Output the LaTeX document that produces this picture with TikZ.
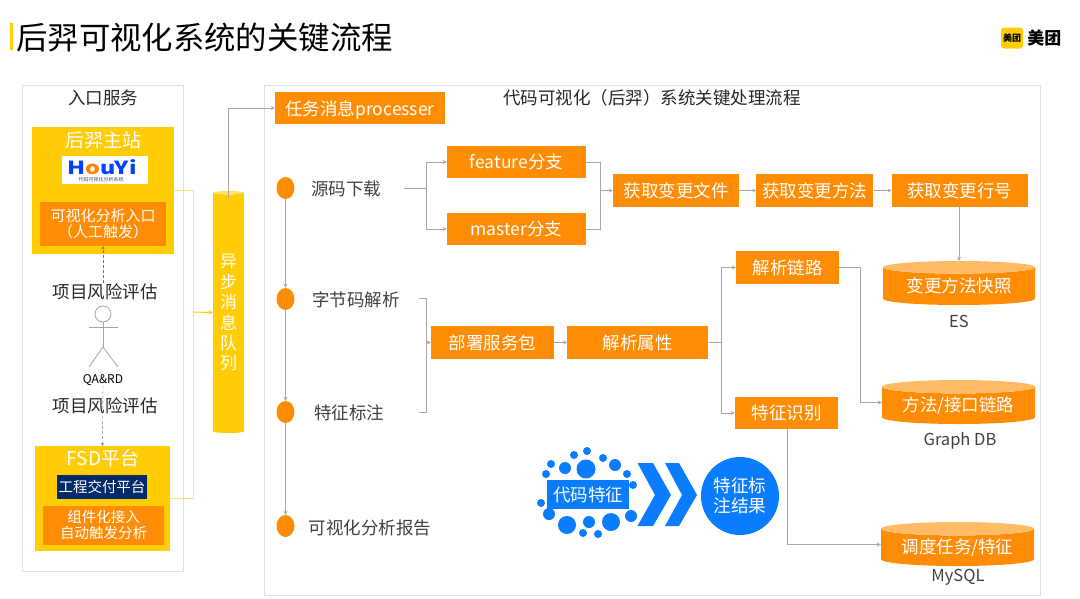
\documentclass[tikz,border=0pt]{standalone}
\usepackage{fontspec}
\setmainfont{Noto Sans CJK SC}
\usetikzlibrary{positioning,calc,arrows.meta,shapes.geometric}
\definecolor{mtgold}{HTML}{FFCC05}
\definecolor{mtorange}{HTML}{FF8C05}
\definecolor{mtpale}{HTML}{FFBB66}
\definecolor{mtblue}{HTML}{0A7CFF}
\definecolor{mtnavy}{HTML}{002A6C}
\definecolor{mtgray}{HTML}{A6A6A6}
\newcommand{\pxfont}[1]{\fontsize{#1}{#1}\selectfont}
\tikzset{
  >=stealth,
  my panel/.style={draw=black!12,line width=1pt,fill=white},
  my gold/.style={fill=mtgold,inner sep=0pt},
  my box/.style={
    fill=mtorange,
    text=white,
    inner sep=0pt,
    align=center,
    font=\pxfont{17.5}
  },
  my store/.style={
    cylinder,
    shape border rotate=90,
    aspect=0.12,
    anchor=shape center,
    minimum width=152pt,
    minimum height=44pt,
    inner sep=0pt,
    cylinder uses custom fill,
    cylinder body fill=mtorange,
    cylinder end fill=mtpale,
    text=white,
    font=\pxfont{17.5}
  },
  my label/.style={text=black!75,font=\pxfont{17.5}},
  my step/.style={ellipse,fill=mtorange,minimum width=18pt,minimum height=22pt,inner sep=0pt},
  my flow/.style={draw=mtgray,line width=0.8pt},
  my feed/.style={draw=mtgold!55,line width=1pt},
  my hint/.style={draw=black!55,densely dashed,line width=0.4pt},
  my dot/.style={circle,fill=mtblue,inner sep=0pt}
}

\begin{document}
\begin{tikzpicture}[x=1pt,y=-1pt]
\useasboundingbox (0,0) rectangle (1080,598);
% Heading and brand mark
\fill[mtgold] (10,23) rectangle (13,50);
\node[anchor=west,inner sep=0pt,font=\pxfont{31.4}] (heading) at (16,37.5) {后羿可视化系统的关键流程};
\node[fill=mtgold,rounded corners=3pt,minimum width=22pt,minimum height=21pt,inner sep=0pt,font=\pxfont{9}\bfseries] (brandicon) at (1012,38) {美团};
\node[inner sep=0pt,font=\pxfont{17}\bfseries,right=4pt of brandicon] (brand) {美团};
% Entry panel
\draw[my panel] (22,85) rectangle (183,571);
\node[my label,text=black!85] (entrytitle) at (103,97.5) {入口服务};
\node[my gold,minimum width=142pt,minimum height=127pt] (mainsite) at (103,190.5) {};
\node[text=white,font=\pxfont{19}] (mainsitetitle) at (103,140) {后羿主站};
\node[fill=white,minimum width=86pt,minimum height=28pt,inner sep=0pt] (houyilogo) at (105,170) {};
\node[inner sep=0pt,font=\pxfont{18}\bfseries,text=blue!75!cyan] (houyi) at (102,167) {\scalebox{1.3}[1]{H\textcolor{orange}{o}uYi}};
\node[inner sep=0pt,font=\pxfont{5},text=black!70] (houyisub) at (101,180) {代码可视化分析系统};
\node[my box,minimum width=126pt,minimum height=44pt,font=\pxfont{15}] (entry) at (103,224) {可视化分析入口\\[1pt]（人工触发）};
% User in the middle
\node[my label,text=black!85] (riskup) at (105,292) {项目风险评估};
\node[draw=mtgray,circle,minimum size=16pt,inner sep=0pt,line width=0.8pt] (head) at (103,314) {};
\coordinate (hip) at (103,347);
\draw[my flow] (head) -- (hip);
\draw[my flow] (89,327) -- (118,327);
\draw[my flow] (89,367) -- (hip) -- (118,367);
\node[inner sep=0pt,font=\pxfont{12}] (qa) at (103,380) {QA\&RD};
\node[my label,text=black!85] (riskdown) at (105,406) {项目风险评估};
% FSD block
\node[my gold,minimum width=135pt,minimum height=105pt] (fsd) at (102.5,498.5) {};
\node[text=white,font=\pxfont{19}] (fsdtitle) at (103,458) {FSD平台};
\node[fill=mtnavy,text=white,minimum width=90pt,minimum height=24pt,inner sep=0pt,font=\pxfont{14.5}] (delivery) at (102,487) {工程交付平台};
\node[my box,minimum width=121pt,minimum height=39pt,font=\pxfont{14.5}] (auto) at (103.5,525.5) {组件化接入\\[1.5pt]自动触发分析};
\coordinate (riskfrom) at (103,283);
\draw[my hint,->] (riskfrom) -- (entry.south);
\draw[my hint,->] (qa.south) -- (fsd.north);
% Message queue
\node[cylinder,shape border rotate=90,aspect=0.2,anchor=shape center,minimum width=31pt,minimum height=242pt,inner sep=0pt,
  cylinder uses custom fill,cylinder body fill=mtgold,cylinder end fill=mtgold!60,
  text=white,align=center,font=\fontsize{17}{20.4}\selectfont] (queue) at (228.5,312) {异\\步\\消\\息\\队\\列};
\coordinate (feedin) at (193,312);
\draw[my feed] (mainsite) -| (feedin);
\draw[my feed] (fsd) -| (feedin);
\draw[my feed,->,draw=mtgold] (feedin) -- (queue);
% Processing panel
\draw[my panel] (264,85) rectangle (1040,595);
\node[my label,text=black!85,font=\pxfont{17.5}] (maintitle) at (652,97.5) {代码可视化（后羿）系统关键处理流程};
\node[my box,minimum width=170pt,minimum height=32pt,text depth=0pt] (task) at (360,108) {任务消息processer};
\coordinate (queuetop) at (228.5,198);
\draw[my flow,->] (queuetop) |- (task);
% Steps on the left
\node[my step] (step1) at (285.5,188) {};
\node[my step] (step2) at (285.5,299) {};
\node[my step] (step3) at (285.5,412) {};
\node[my step] (step4) at (285.5,526) {};
\draw[my flow,->] (step1) -- (step2);
\draw[my flow,->] (step2) -- (step3);
\draw[my flow,->] (step3) -- (step4);
\node[my label] (source) at (346,188.5) {源码下载};
\node[my label] (bytecode) at (356,299.5) {字节码解析};
\node[my label] (tagging) at (349,412.5) {特征标注};
\node[my label] (report) at (370,527.5) {可视化分析报告};
% Source branches
\node[my box,minimum width=139pt,minimum height=32pt] (feature) at (516.5,162) {feature分支};
\node[my box,minimum width=139pt,minimum height=32pt] (master) at (516.5,229) {master分支};
\coordinate (srcout) at (404,188);
\coordinate (srcfork) at (426,188);
\draw[my flow] (srcout) -- (srcfork);
\draw[my flow,->] (srcfork) |- (feature);
\draw[my flow,->] (srcfork) |- (master);
% Change detection row
\node[my box,minimum width=126pt,minimum height=33pt] (file) at (676,190.5) {获取变更文件};
\node[my box,minimum width=117pt,minimum height=33pt,right=17pt of file] (method) {获取变更方法};
\node[my box,minimum width=136pt,minimum height=33pt,right=18pt of method] (line) {获取变更行号};
\coordinate (srcjoin) at (600,190.5);
\draw[my flow] (feature) -| (srcjoin);
\draw[my flow] (master) -| (srcjoin);
\draw[my flow,->] (srcjoin) -- (file);
\draw[my flow,->] (file) -- (method);
\draw[my flow,->] (method) -- (line);
% Stores
\node[my store] (snapshot) at (959,283) {变更方法快照};
\node[my store,minimum width=153pt] (graph) at (958.5,402) {方法/接口链路};
\node[my store,minimum width=153pt] (sched) at (957.5,544) {调度任务/特征};
\node[my label,font=\pxfont{16.5}] (es) at (959,321.5) {ES};
\node[my label,font=\pxfont{16.5}] (graphdb) at (960,440.5) {Graph DB};
\node[my label,font=\pxfont{16.5}] (mysql) at (958,577.5) {MySQL};
\coordinate (lineout) at (959,207);
\draw[my flow,->] (lineout) -- (snapshot.north);
% Bytecode analysis row
\node[my box,minimum width=123pt,minimum height=33pt] (deploy) at (492.5,342.5) {部署服务包};
\node[my box,minimum width=141pt,minimum height=33pt,right=13pt of deploy] (attr) {解析属性};
\node[my box,minimum width=103pt,minimum height=33pt] (chain) at (787.5,267.5) {解析链路};
\node[my box,minimum width=103pt,minimum height=32pt] (detect) at (786.5,413) {特征识别};
\coordinate (byteout) at (419,298);
\coordinate (tagout) at (419,412);
\coordinate (bytejoin) at (426,342.5);
\draw[my flow] (byteout) -| (bytejoin);
\draw[my flow] (tagout) -| (bytejoin);
\draw[my flow,->] (bytejoin) -- (deploy);
\draw[my flow,->] (deploy) -- (attr);
\coordinate (attrfork) at (721,342.5);
\draw[my flow] (attr) -- (attrfork);
\draw[my flow,->] (attrfork) |- (chain);
\draw[my flow,->] (attrfork) |- (detect);
\coordinate (chainbend) at (860,402.5);
\draw[my flow] (chain) -| (chainbend);
\draw[my flow,->] (chainbend) -- (graph.west |- chainbend);
\coordinate (detectbend) at (787,544.5);
\draw[my flow] (detect.south -| detectbend) -- (detectbend);
\draw[my flow,->] (detectbend) -- (sched.west |- detectbend);
% Feature tagging legend
\foreach \px/\py/\pr in {586/469/9.5,565/468/6,551/464/4,546/474/4,574/455/4,587/451/4,603/458/4,615/465/6,627/474/4,633/485/4,541/503/4,549/514/6,567/525/9,589/522/6,611/522/9,631/516/6,583/533/4,598/534/4}
  \node[my dot,minimum size=2*\pr pt] at (\px,\py) {};
\node[fill=mtblue,text=white,minimum width=82pt,minimum height=29pt,inner sep=0pt,font=\pxfont{17.5}] (codefeat) at (588,494.5) {代码特征};
\fill[mtblue] (637.5,463) -- (653,463) -- (671,495) -- (653,526) -- (637.5,526) -- (655,495) -- cycle;
\fill[mtblue] (665,463) -- (679,463) -- (697,495) -- (679,526) -- (665,526) -- (682,495) -- cycle;
\node[circle,fill=mtblue,text=white,minimum size=78pt,inner sep=0pt,align=center,font=\fontsize{17.6}{19.5}\selectfont] (result) at (740,496) {特征标\\注结果};
\end{tikzpicture}
\end{document}
